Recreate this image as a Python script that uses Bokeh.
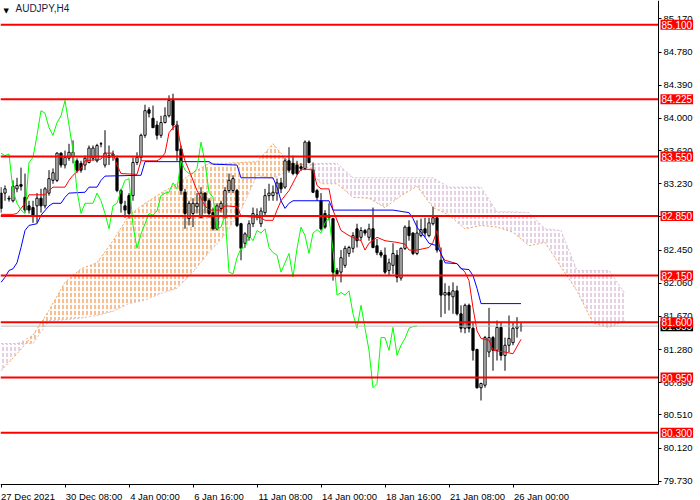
import numpy as np
from bokeh.embed import file_html
from bokeh.models import (ColumnDataSource, FixedTicker, Label, LinearAxis,
                          PrintfTickFormatter, Range1d)
from bokeh.plotting import figure
from bokeh.resources import INLINE

# AUDJPY H4, one value per bar (bar 0 = 27 Dec 2021 16:00)
opens = [83.12, 83.12, 83.06, 83.03, 83.17, 83.22, 83.07, 82.97, 82.95, 82.97,
         83.06, 82.97, 83.12, 83.27, 83.27, 83.59, 83.45, 83.53, 83.55, 83.50,
         83.47, 83.45, 83.48, 83.53, 83.50, 83.70, 83.45, 83.54, 83.56, 83.53,
         83.15, 82.97, 83.09, 83.09, 83.48, 83.54, 83.80, 84.10, 84.00, 83.92,
         83.80, 83.95, 84.03, 84.21, 83.92, 83.64, 83.13, 82.82, 82.88, 82.96,
         82.83, 83.12, 83.03, 82.89, 82.70, 82.94, 82.83, 83.15, 83.15, 83.15,
         82.76, 82.53, 82.60, 82.76, 82.86, 82.76, 82.89, 83.09, 83.09, 83.12,
         83.24, 83.19, 83.50, 83.47, 83.45, 83.43, 83.41, 83.72, 83.39, 83.15,
         83.03, 82.88, 82.83, 82.82, 82.21, 82.19, 82.27, 82.41, 82.47, 82.70,
         82.60, 82.68, 82.60, 82.70, 82.50, 82.42, 82.39, 82.21, 82.27, 82.39,
         82.12, 82.47, 82.72, 82.65, 82.41, 82.62, 82.70, 82.62, 82.76, 82.83,
         82.33, 81.92, 81.95, 81.90, 81.97, 81.70, 81.53, 81.80, 81.53, 81.28,
         80.83, 80.86, 81.25, 81.42, 81.27, 81.54, 81.21, 81.33, 81.36, 81.53,
         81.55]
highs = [83.19, 83.21, 83.09, 83.27, 83.30, 83.42, 83.35, 83.03, 83.03, 83.12,
         83.17, 83.19, 83.39, 83.41, 83.60, 83.60, 83.62, 83.70, 83.74, 83.53,
         83.50, 83.56, 83.68, 83.68, 83.70, 83.72, 83.86, 83.68, 83.62, 83.56,
         83.17, 83.03, 83.12, 83.54, 83.60, 83.82, 84.16, 84.13, 84.15, 83.97,
         84.03, 84.13, 84.27, 84.29, 83.97, 83.68, 83.17, 83.03, 83.06, 83.12,
         83.19, 83.13, 83.06, 82.95, 83.00, 83.03, 83.19, 83.35, 83.33, 83.17,
         82.77, 82.66, 82.80, 82.95, 82.94, 82.95, 83.17, 83.23, 83.21, 83.29,
         83.30, 83.53, 83.66, 83.56, 83.50, 83.47, 83.74, 83.74, 83.48, 83.17,
         83.12, 82.92, 83.00, 82.83, 82.24, 82.45, 82.50, 82.50, 82.66, 82.76,
         82.72, 82.70, 82.76, 82.95, 82.58, 82.45, 82.48, 82.35, 82.53, 82.45,
         82.48, 82.74, 82.80, 82.66, 82.80, 82.82, 82.83, 82.83, 82.96, 82.86,
         82.48, 82.06, 82.03, 82.07, 82.03, 81.80, 81.82, 81.82, 81.60, 81.29,
         80.89, 81.44, 81.77, 81.44, 81.62, 81.60, 81.42, 81.68, 81.60, 81.66,
         81.60]
lows = [82.89, 83.03, 83.02, 83.01, 83.13, 83.15, 82.89, 82.88, 82.77, 82.77,
        82.89, 82.94, 83.09, 83.23, 83.25, 83.42, 83.41, 83.50, 83.47, 83.36,
        83.36, 83.39, 83.47, 83.50, 83.48, 83.66, 83.42, 83.45, 83.50, 83.13,
        82.89, 82.83, 82.82, 83.03, 83.45, 83.50, 83.77, 84.01, 83.89, 83.75,
        83.77, 83.94, 84.01, 83.86, 83.50, 83.10, 82.70, 82.74, 82.72, 82.88,
        82.83, 82.88, 82.83, 82.68, 82.68, 82.89, 82.82, 83.12, 83.12, 82.72,
        82.33, 82.48, 82.56, 82.72, 82.80, 82.72, 82.86, 83.03, 83.03, 83.03,
        83.12, 83.17, 83.36, 83.33, 83.33, 83.38, 83.39, 83.47, 83.12, 83.03,
        82.68, 82.70, 82.80, 82.09, 82.15, 82.07, 82.24, 82.37, 82.42, 82.48,
        82.56, 82.62, 82.56, 82.47, 82.39, 82.36, 82.17, 82.15, 82.17, 82.07,
        82.09, 82.45, 82.56, 82.39, 82.39, 82.60, 82.60, 82.60, 82.74, 82.42,
        81.66, 81.70, 81.74, 81.70, 81.68, 81.48, 81.47, 81.48, 81.15, 80.82,
        80.68, 80.83, 81.19, 81.03, 81.15, 81.15, 81.03, 81.25, 81.33, 81.42,
        81.49]
closes = [82.94, 83.17, 83.05, 83.20, 83.21, 83.20, 82.92, 82.92, 82.86, 83.06,
          82.97, 83.17, 83.29, 83.36, 83.59, 83.45, 83.54, 83.60, 83.60, 83.39,
          83.39, 83.53, 83.65, 83.65, 83.68, 83.70, 83.59, 83.56, 83.58, 83.15,
          83.00, 82.92, 82.88, 83.48, 83.54, 83.80, 84.09, 84.06, 83.89, 83.80,
          83.95, 84.03, 84.21, 83.92, 83.62, 83.15, 82.88, 83.00, 83.00, 83.00,
          83.12, 83.03, 82.88, 82.70, 82.97, 83.00, 83.15, 83.27, 83.29, 82.74,
          82.47, 82.64, 82.76, 82.88, 82.86, 82.91, 83.09, 83.12, 83.13, 83.24,
          83.17, 83.50, 83.39, 83.35, 83.35, 83.41, 83.72, 83.48, 83.13, 83.07,
          82.70, 82.72, 82.86, 82.19, 82.17, 82.36, 82.47, 82.48, 82.62, 82.56,
          82.68, 82.65, 82.70, 82.48, 82.42, 82.39, 82.19, 82.30, 82.41, 82.13,
          82.47, 82.72, 82.62, 82.41, 82.65, 82.69, 82.65, 82.77, 82.83, 82.45,
          81.92, 81.95, 81.92, 81.97, 81.70, 81.53, 81.80, 81.53, 81.27, 80.83,
          80.88, 81.42, 81.42, 81.27, 81.54, 81.21, 81.33, 81.41, 81.53, 81.55,
          81.555]

# Ichimoku lines (bar index, price)
tenkan_bar = [0, 3, 4, 6, 7, 11, 12, 13, 16, 17, 18, 20, 21, 25, 26, 28, 29, 30, 34, 35,
              39, 40, 41, 42, 43, 44, 45, 46, 47, 49, 51, 52, 55, 56, 59, 60, 65, 66, 68, 69,
              70, 72, 74, 75, 78, 79, 80, 82, 83, 85, 87, 90, 91, 92, 94, 96, 99, 101, 102, 104,
              107, 108, 109, 110, 111, 114, 116, 117, 118, 119, 120, 122, 123, 126, 128, 130]
tenkan = [82.87, 82.87, 82.88, 83.00, 83.10, 83.10, 83.15, 83.19, 83.19, 83.27,
          83.33, 83.41, 83.50, 83.52, 83.59, 83.59, 83.45, 83.35, 83.34, 83.50,
          83.50, 83.53, 83.59, 83.83, 83.89, 83.92, 83.66, 83.50, 83.39, 83.15,
          82.97, 82.92, 82.92, 82.97, 82.96, 82.85, 82.83, 82.80, 82.80, 82.92,
          83.03, 83.15, 83.33, 83.40, 83.40, 83.21, 83.17, 83.17, 82.92, 82.68,
          82.62, 82.56, 82.45, 82.53, 82.60, 82.56, 82.54, 82.52, 82.45, 82.45,
          82.48, 82.54, 82.68, 82.39, 82.33, 82.29, 82.19, 82.09, 81.77, 81.50,
          81.41, 81.39, 81.27, 81.25, 81.23, 81.40]
kijun_bar = [0, 1, 2, 3, 4, 5, 6, 7, 9, 10, 12, 13, 15, 16, 17, 21, 22, 24, 25, 26,
             35, 36, 52, 53, 59, 60, 68, 69, 70, 71, 72, 73, 82, 83, 98, 102, 103, 104, 106, 107,
             109, 110, 111, 114, 115, 117, 118, 119, 120, 130]
kijun = [82.07, 82.13, 82.21, 82.23, 82.30, 82.48, 82.68, 82.74, 82.76, 82.86,
         82.97, 83.00, 83.00, 83.07, 83.12, 83.13, 83.19, 83.19, 83.27, 83.32,
         83.33, 83.49, 83.49, 83.46, 83.45, 83.30, 83.30, 83.19, 83.03, 82.94,
         83.00, 83.03, 83.03, 82.92, 82.92, 82.89, 82.82, 82.72, 82.60, 82.53,
         82.50, 82.41, 82.30, 82.29, 82.23, 82.22, 82.15, 82.00, 81.82, 81.82]
chikou_shift = 26

cloud_bar = list(range(0, 157, 4))
span_a = [81.03, 81.23, 81.45, 81.74, 82.07, 82.23, 82.30, 82.56, 82.86, 83.00,
          83.12, 83.23, 83.36, 83.47, 83.47, 83.48, 83.49, 83.70, 83.48, 83.46,
          83.23, 83.23, 83.07, 83.06, 82.95, 83.09, 83.20, 82.95, 82.86, 82.70,
          82.74, 82.72, 82.66, 82.50, 82.54, 82.25, 81.97, 81.59, 81.54, 81.62]
span_b = [81.35, 81.35, 81.35, 81.62, 81.63, 81.65, 81.68, 81.73, 81.82, 81.86,
          81.94, 82.00, 82.19, 82.42, 82.63, 82.92, 83.33, 83.29, 83.39, 83.43,
          83.47, 83.47, 83.30, 83.30, 83.30, 83.30, 83.30, 83.30, 83.19, 83.19,
          83.19, 82.90, 82.90, 82.89, 82.70, 82.68, 82.21, 82.21, 82.21, 81.94]

levels = [85.100, 84.225, 83.550, 82.850, 82.150, 81.600, 80.950, 80.300]
bid = 81.555
price_ticks = [79.73, 80.12, 80.51, 80.89, 81.28, 81.67, 82.06, 82.45, 82.84,
               83.23, 83.62, 84.00, 84.39, 84.78, 85.17]
date_ticks = [0, 16, 32, 48, 64, 80, 96, 112, 128]
date_labels = ["27 Dec 2021", "30 Dec 08:00", "4 Jan 00:00", "6 Jan 16:00", "11 Jan 08:00",
               "14 Jan 00:00", "18 Jan 16:00", "21 Jan 08:00", "26 Jan 00:00"]
# MT4 writes the date to the right of its tick: shift each label centre (px)
label_shift_px = [27, 29, 26, 26, 28.5, 28.5, 28.5, 28.5, 28.5]

FONT = "Liberation Sans"
W, H = 700, 500
PX_PER_BAR = 4
PRICE_PER_PX = 0.011765
X_START = -0.125
Y_TOP = 85.386
# chart area is 658 x 484 px; the scales sit on its right and bottom edges
X_AXIS = X_START + 658 / PX_PER_BAR
Y_AXIS = Y_TOP - 484 * PRICE_PER_PX

p = figure(width=W, height=H, output_backend="svg", toolbar_location=None,
           x_range=Range1d(X_START, X_START + W / PX_PER_BAR),
           y_range=Range1d(Y_TOP - H * PRICE_PER_PX, Y_TOP),
           x_axis_location=None, y_axis_location=None, min_border=0)
p.outline_line_color = None
p.grid.visible = False

# cloud: vertical hatch, broken into dashes by a white horizontal hatch
a = np.array(span_a)
b = np.array(span_b)
top = np.maximum(a, b)
p.varea(x=cloud_bar, y1=b, y2=top, fill_color=None, hatch_pattern="|",
        hatch_color="#F4A460", hatch_scale=4, hatch_weight=1.4)
p.varea(x=cloud_bar, y1=a, y2=top, fill_color=None, hatch_pattern="|",
        hatch_color="#D8BFD8", hatch_scale=4, hatch_weight=1.4)
p.varea(x=cloud_bar, y1=np.minimum(a, b), y2=top, fill_color=None, hatch_pattern="-",
        hatch_color="white", hatch_scale=6, hatch_weight=1.8)
p.line(cloud_bar, span_a, line_color="#F4A460", line_width=1, line_dash="2 2")
p.line(cloud_bar, span_b, line_color="#D8BFD8", line_width=1, line_dash="2 2")

# candles
o = np.array(opens)
c = np.array(closes)
src = ColumnDataSource(dict(
    x=np.arange(len(closes)), high=highs, low=lows,
    top=np.maximum(o, c), bottom=np.minimum(o, c),
    fill=np.where(c >= o, "white", "black"),
))
p.segment(x0="x", y0="high", x1="x", y1="low", source=src, line_color="black", line_width=1)
p.vbar(x="x", width=0.55, top="top", bottom="bottom", source=src,
       fill_color="fill", line_color="black", line_width=1)

# ichimoku lines
p.line(tenkan_bar, tenkan, line_color="#FF0000", line_width=1)
p.line(kijun_bar, kijun, line_color="#0000FF", line_width=1)
chikou_x = np.arange(chikou_shift, len(closes)) - chikou_shift
p.line(chikou_x, closes[chikou_shift:], line_color="#00FF00", line_width=1)

# bid line and horizontal levels, across the chart area only
p.segment(x0=X_START, x1=X_AXIS, y0=bid, y1=bid, line_color="#C0C0C0", line_width=1)
p.segment(x0=X_START, x1=X_AXIS, y0=levels, y1=levels, line_color="#FF0000", line_width=2)

# chart area border (right and bottom)
p.segment(x0=[X_AXIS, X_START], y0=[Y_AXIS, Y_AXIS], x1=[X_AXIS, X_AXIS], y1=[Y_TOP, Y_AXIS],
          line_color="black", line_width=1)

# scales, pinned to the chart area's edges
yaxis = LinearAxis(fixed_location=X_AXIS, ticker=FixedTicker(ticks=price_ticks),
                   formatter=PrintfTickFormatter(format="%.3f"))
yaxis.major_tick_out = 3
yaxis.major_tick_in = 0
yaxis.minor_tick_line_color = None
yaxis.major_label_standoff = 2

label_pos = [round(t + s / PX_PER_BAR, 3) for t, s in zip(date_ticks, label_shift_px)]
xaxis = LinearAxis(fixed_location=Y_AXIS,
                   ticker=FixedTicker(ticks=label_pos, minor_ticks=date_ticks))
xaxis.major_label_overrides = dict(zip(label_pos, date_labels))
xaxis.major_tick_line_color = None
xaxis.major_tick_out = 0
xaxis.minor_tick_line_color = "black"
xaxis.minor_tick_out = 3
xaxis.minor_tick_in = 0
xaxis.major_label_standoff = 3

for ax in (xaxis, yaxis):
    ax.axis_line_color = None
    ax.major_label_text_font = FONT
    ax.major_label_text_font_size = "9.5px"
    ax.major_label_text_color = "black"
p.add_layout(yaxis, "right")
p.add_layout(xaxis, "below")

# price tags on the right scale
tag_x = X_AXIS + 0.5
p.add_layout(Label(x=tag_x, y=bid, text=f"{bid:.3f}",
                   text_color="white", text_font=FONT, text_font_size="10px",
                   text_baseline="middle", background_fill_color="black", padding=1))
for lvl in levels:
    p.add_layout(Label(x=tag_x, y=lvl, text=f"{lvl:.3f}",
                       text_color="white", text_font=FONT, text_font_size="10px",
                       text_baseline="middle", background_fill_color="#FF0000", padding=1))

# symbol caption
p.add_layout(Label(x=3, y=H - 6, x_units="screen", y_units="screen", text="▼",
                   text_color="black", text_font="DejaVu Sans", text_font_size="7px",
                   text_baseline="top"))
p.add_layout(Label(x=15, y=H - 2, x_units="screen", y_units="screen", text="AUDJPY,H4",
                   text_color="#1a1a40", text_font=FONT, text_font_size="10px",
                   text_baseline="top"))

open("out.html", "w").write(file_html(p, INLINE))
